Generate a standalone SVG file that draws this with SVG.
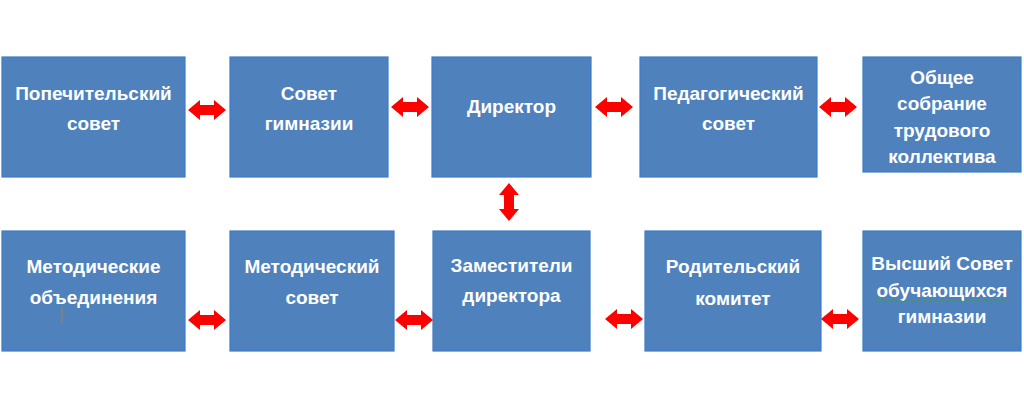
<svg xmlns="http://www.w3.org/2000/svg" width="1024" height="414" viewBox="0 0 1024 414">
<style>
.box{fill:#4F81BD;stroke:#3D7CC6;stroke-width:1.2}
.t{font-family:"Liberation Sans",Arial,sans-serif;font-weight:bold;font-size:19px;fill:#FFFFFF;text-anchor:middle}
.arr{fill:#FF0000}
</style>
<defs>
<path id="dh" d="M0,0 L12,-10 L12,-5 L26,-5 L26,-10 L38,0 L26,10 L26,5 L12,5 L12,10 Z"/>
</defs>
<rect width="1024" height="414" fill="#FFFFFF"/>
<g id="n1"><rect class="box" x="2" y="57" width="183" height="120"/><text class="t" x="93.5" y="100">Попечительский</text><text class="t" x="93.5" y="130">совет</text></g>
<g id="n2"><rect class="box" x="230" y="57" width="158" height="120"/><text class="t" x="309" y="100">Совет</text><text class="t" x="309" y="130">гимназии</text></g>
<g id="n3"><rect class="box" x="432" y="57" width="159" height="120"/><text class="t" x="511.5" y="113">Директор</text></g>
<g id="n4"><rect class="box" x="640" y="57" width="177" height="120"/><text class="t" x="728.5" y="100">Педагогический</text><text class="t" x="728.5" y="130">совет</text></g>
<g id="n5"><rect class="box" x="863" y="57" width="158" height="115"/><text class="t" x="942" y="84">Общее</text><text class="t" x="942" y="110">собрание</text><text class="t" x="942" y="137">трудового</text><text class="t" x="942" y="163">коллектива</text></g>
<g id="n6"><rect class="box" x="2" y="231" width="183" height="120"/><text class="t" x="93.5" y="273">Методические</text><text class="t" x="93.5" y="304">объединения</text><line x1="62" y1="308" x2="62" y2="323" stroke="#B08050" stroke-width="1"/></g>
<g id="n7"><rect class="box" x="230" y="231" width="164" height="120"/><text class="t" x="312" y="273">Методический</text><text class="t" x="312" y="304">совет</text></g>
<g id="n8"><rect class="box" x="433" y="231" width="157" height="120"/><text class="t" x="511.5" y="272">Заместители</text><text class="t" x="511.5" y="302">директора</text></g>
<g id="n9"><rect class="box" x="645" y="231" width="176" height="120"/><text class="t" x="733" y="273">Родительский</text><text class="t" x="733" y="305">комитет</text></g>
<g id="n10"><rect class="box" x="863" y="231" width="158" height="120"/><text class="t" x="942" y="270">Высший Совет</text><text class="t" x="942" y="297">обучающихся</text><path d="M875,301 q1.5,-1.5 3,0 t3,0 t3,0 t3,0 t3,0 t3,0 t3,0 t3,0 t3,0 t3,0 t3,0 t3,0 t3,0 t3,0 t3,0 t3,0 t3,0 t3,0 t3,0 t3,0 t3,0 t3,0 t3,0 t3,0 t3,0 t3,0 t3,0 t3,0 t3,0 t3,0 t3,0 t3,0 t3,0 t3,0 t3,0 t3,0 t3,0 t3,0 t3,0 t3,0 t3,0 t3,0 t3,0 t3,0" fill="none" stroke="#3FA03F" stroke-width="1"/><text class="t" x="942" y="323">гимназии</text></g>
<g id="connectors" class="arr">
<use href="#dh" x="188" y="110"/>
<use href="#dh" x="391" y="107"/>
<use href="#dh" x="595" y="107"/>
<use href="#dh" x="819" y="107"/>
<use href="#dh" transform="translate(509,183) rotate(90)"/>
<use href="#dh" x="188" y="320"/>
<use href="#dh" x="395" y="320"/>
<use href="#dh" x="605" y="319"/>
<use href="#dh" x="821" y="319"/>
</g>
</svg>
